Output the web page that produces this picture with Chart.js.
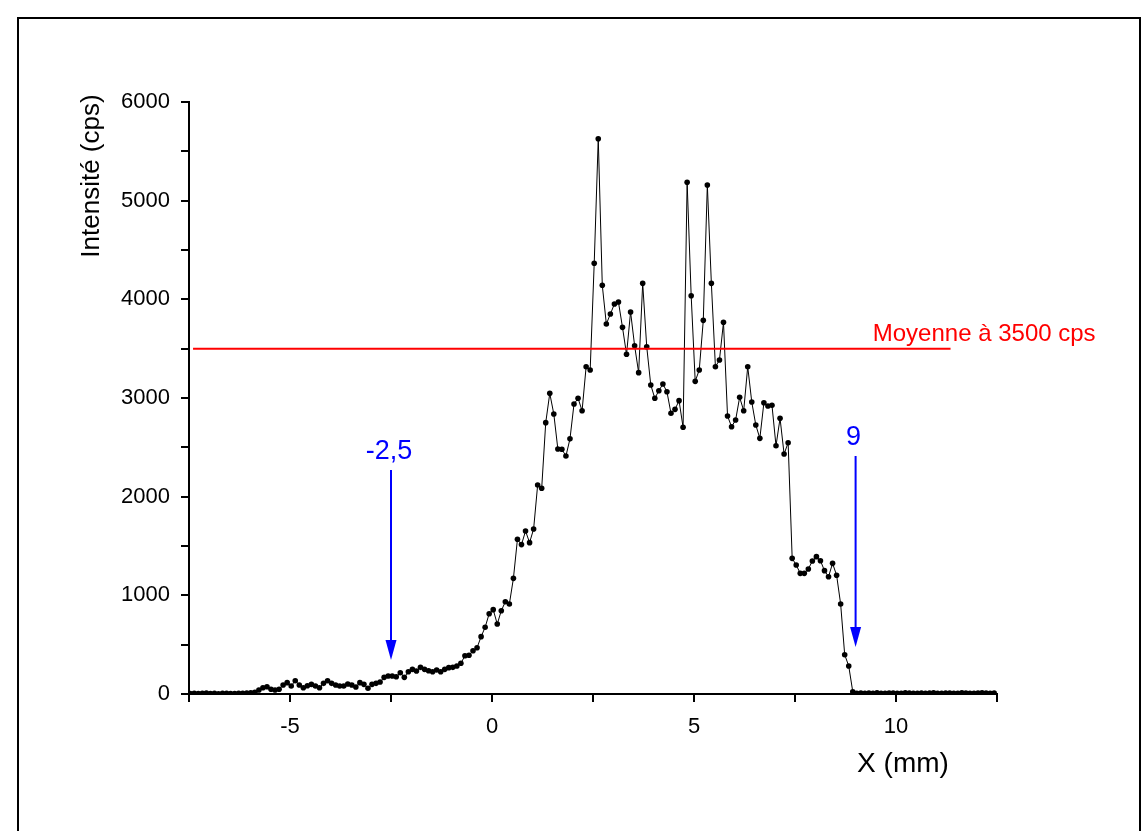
<!DOCTYPE html>
<html>
<head>
<meta charset="utf-8">
<script src="https://cdn.jsdelivr.net/npm/chart.js@4"></script>
<style>
    body { margin: 0; background: #fff; }
    #wrap { position: relative; width: 1145px; height: 831px; overflow: hidden; }
    #frame { position: absolute; left: 17px; top: 17px; width: 1120px; height: 900px; border: 2px solid #000; pointer-events: none; }
    canvas { position: absolute; left: 0; top: 0; }
</style>
</head>
<body>
<div id="wrap">
    <canvas id="chart-profile" width="1145" height="831"></canvas>
    <div id="frame"></div>
</div>
<script>
// sampling of the scan (mm)
const X_START = -7.47;
const X_STEP = 0.1;

// intensity (cps), read point by point
const intensity = [
    5, 8, 4, 6, 9, 5, 7, 3, 6, 8, 5, 4, 7, 6, 9, 12,
    17, 40, 64, 74, 48, 40, 48, 91, 115, 81, 135, 91, 64, 84, 98, 81, 64, 108, 135, 108,
    91, 81, 81, 101, 91, 71, 115, 98, 58, 98, 108, 122, 169, 182, 182, 175, 216, 169, 226, 250,
    233, 270, 250, 236, 226, 243, 226, 250, 267, 270, 284, 311, 388, 392, 439, 469, 581, 676, 814, 855,
    709, 844, 935, 912, 1172, 1568, 1514, 1652, 1534, 1672, 2118, 2085, 2750, 3047, 2838, 2483, 2480, 2412, 2586, 2939,
    2997, 2871, 3317, 3284, 4365, 5628, 4142, 3750, 3851, 3953, 3973, 3716, 3443, 3872, 3530, 3257, 4162, 3520, 3132, 2997,
    3074, 3142, 3064, 2845, 2885, 2973, 2703, 5186, 4037, 3169, 3284, 3787, 5159, 4162, 3317, 3385, 3767, 2817, 2709, 2777,
    3007, 2871, 3317, 2959, 2726, 2591, 2952, 2919, 2926, 2516, 2794, 2432, 2547, 1375, 1307, 1223, 1223, 1267, 1348, 1392,
    1351, 1250, 1189, 1324, 1203, 912, 398, 284, 23,
    8, 10, 6, 9, 7, 11, 8, 6, 10, 9, 7, 8, 12, 9, 6, 8, 10, 7, 9, 11,
    8, 6, 9, 10, 7, 8, 11, 9, 6, 8, 10, 12, 9, 7, 10
];

const meanValue = 3500;
const meanRange = [-7.4, 11.35];
const meanLabel = 'Moyenne à 3500 cps';
const meanLabelX = 9.45;

const arrows = [
    { x: -2.5, from: 2270, to: 345, label: '-2,5' },
    { x: 9, from: 2412, to: 476, label: '9' },
];

const xTitle = 'X (mm)';
const yTitle = 'Intensité (cps)';

const BLUE = '#0000ff';
const RED = '#ff0000';
const FONT = 'Liberation Sans';

Chart.defaults.font.family = FONT;

const profile = intensity.map((v, i) => ({ x: X_START + i * X_STEP, y: v }));

const overlay = {
    id: 'overlay',
    afterDraw(chart) {
        const { ctx, scales: { x, y } } = chart;
        ctx.save();

        // arrow heads + labels
        arrows.forEach(a => {
            const px = x.getPixelForValue(a.x);
            const tip = y.getPixelForValue(a.to);
            ctx.fillStyle = BLUE;
            ctx.beginPath();
            ctx.moveTo(px, tip);
            ctx.lineTo(px - 5.5, tip - 20);
            ctx.lineTo(px + 5.5, tip - 20);
            ctx.closePath();
            ctx.fill();
            ctx.font = '27px "' + FONT + '"';
            ctx.textAlign = 'center';
            ctx.textBaseline = 'alphabetic';
            ctx.fillText(a.label, px - 2, y.getPixelForValue(a.from) - 11);
        });

        // mean label
        ctx.fillStyle = RED;
        ctx.font = '24px "' + FONT + '"';
        ctx.textAlign = 'left';
        ctx.textBaseline = 'alphabetic';
        ctx.fillText(meanLabel, x.getPixelForValue(meanLabelX) - 1, y.getPixelForValue(meanValue) - 8);

        // axis titles
        ctx.fillStyle = '#000';
        ctx.font = '28px "' + FONT + '"';
        ctx.textAlign = 'center';
        ctx.textBaseline = 'middle';
        ctx.fillText(xTitle, 903, 764);

        ctx.font = '26px "' + FONT + '"';
        ctx.translate(92, 176);
        ctx.rotate(-Math.PI / 2);
        ctx.fillText(yTitle, 0, 0);

        ctx.restore();
    }
};

const tickFont = { family: FONT, size: 22 };

new Chart(document.getElementById('chart-profile'), {
    type: 'line',
    data: {
        datasets: [
            { data: meanRange.map(v => ({ x: v, y: meanValue })), borderColor: RED, borderWidth: 2, pointRadius: 0 },
            { data: profile, borderColor: '#000', backgroundColor: '#000', borderWidth: 1, pointRadius: 2.8, pointBorderWidth: 0 },
            ...arrows.map(a => ({
                data: [{ x: a.x, y: a.from }, { x: a.x, y: a.to + 100 }],
                borderColor: BLUE, borderWidth: 2, pointRadius: 0
            })),
        ]
    },
    options: {
        responsive: false,
        animation: false,
        layout: { padding: { left: 0, top: 102, right: 148, bottom: 77 } },
        scales: {
            x: {
                type: 'linear',
                min: -7.5,
                max: 12.5,
                border: { color: '#000', width: 2 },
                grid: { drawOnChartArea: false, color: '#000', lineWidth: 2, tickLength: 8 },
                ticks: {
                    stepSize: 2.5,
                    color: '#000',
                    font: tickFont,
                    padding: 12,
                    maxRotation: 0,
                    autoSkip: false,
                    callback: v => (v % 5 === 0 ? v : ''),
                },
                afterFit: s => { s.height = 60; },
            },
            y: {
                min: 0,
                max: 6000,
                border: { color: '#000', width: 2 },
                grid: { drawOnChartArea: false, color: '#000', lineWidth: 2, tickLength: 8 },
                ticks: {
                    stepSize: 500,
                    color: '#000',
                    font: tickFont,
                    padding: 11,
                    autoSkip: false,
                    callback: v => (v % 1000 === 0 ? v : ''),
                },
                afterFit: s => { s.width = 189; },
            }
        },
        plugins: {
            legend: { display: false },
            tooltip: { enabled: false }
        }
    },
    plugins: [overlay]
});
</script>
</body>
</html>
